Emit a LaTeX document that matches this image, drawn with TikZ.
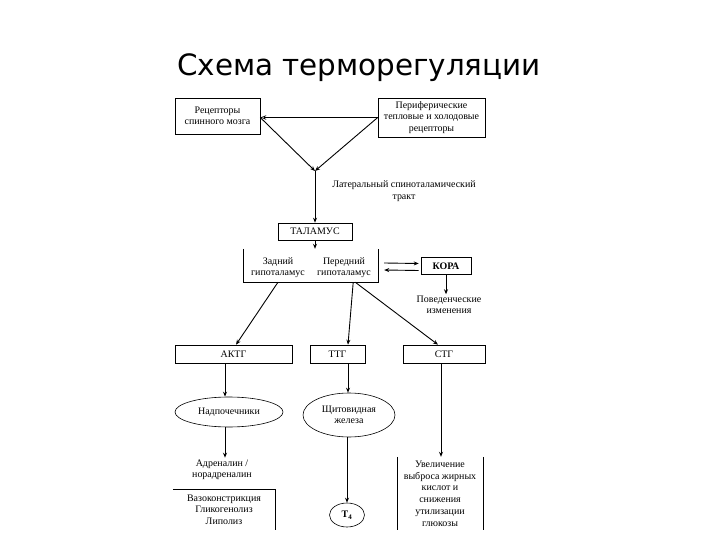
\documentclass[tikz,border=0pt]{standalone}
\usepackage{fontspec}
\setmainfont{Liberation Serif}
\newfontfamily\titlefont{DejaVu Sans}
\usetikzlibrary{arrows.meta,shapes.geometric,calc}
\begin{document}
\begin{tikzpicture}[x=1bp,y=-1bp,
  every node/.style={font=\fontsize{10}{11.5}\selectfont, align=center, inner sep=1.5bp},
  box/.style={draw, line width=0.6pt, inner sep=0pt},
  ell/.style={draw, ellipse, line width=0.6pt, inner sep=0pt},
  arr/.style={line width=0.9pt, -{Stealth[length=5bp,width=4bp]}},
  thinarr/.style={line width=0.5pt, -{Stealth[length=6bp,width=4.5bp,open]}},
  brk/.style={line width=0.6pt}]
\fill[white] (0,0) rectangle (720,540);
\useasboundingbox (0,0) rectangle (720,540);

\node[font=\titlefont\fontsize{29.5}{33}\selectfont] (title) at (359,68) {Схема терморегуляции};

\node[box, minimum width=85bp, minimum height=36bp] (rsm) at (217.5,116) {Рецепторы\\спинного мозга};
\node[box, minimum width=107bp, minimum height=39bp] (prr) at (431.5,117.5) {Периферические\\тепловые и холодовые\\рецепторы};
\coordinate (m) at (315,171);
\draw[thinarr] (prr.west) -- (prr.west -| rsm.east);
\draw[arr] (prr.west -| rsm.east) -- (m);
\draw[arr] (prr.west) -- (m);

\node (lst) at (404,191) {Латеральный спиноталамический\\тракт};

\node[box, minimum width=74bp, minimum height=17bp] (thal) at (315,231.5) {ТАЛАМУС};
\draw[arr] (m) -- (thal.north);

\node[minimum width=135bp, minimum height=33bp, inner sep=0pt] (hyp) at (310.5,265.5) {};
\draw[brk] (hyp.north west) -- (hyp.south west) -- (hyp.south east) -- (hyp.north east);
\node (zad) at (278,267.5) {Задний\\гипоталамус};
\node (per) at (344,267.5) {Передний\\гипоталамус};
\draw[arr] (thal.south) -- (thal.south |- hyp.north);

\node[box, minimum width=50bp, minimum height=17bp, font=\fontsize{10}{11.5}\selectfont\bfseries] (kora) at (446,266) {КОРА};
\draw[arr] ([shift={(6bp,2.5bp)}]hyp.east) -- ([shift={(-2bp,2.5bp)}]kora.west);
\draw[arr] ([shift={(-2bp,-4.5bp)}]kora.west) -- ([shift={(6bp,-4.5bp)}]hyp.east);

\node (pov) at (449,305) {Поведенческие\\изменения};
\draw[arr] (kora.south) -- (kora.south |- pov.north);

\node[box, minimum width=117bp, minimum height=18bp] (akth) at (233.5,354) {АКТГ};
\node[box, minimum width=55bp, minimum height=18bp] (ttg) at (337.5,354) {ТТГ};
\node[box, minimum width=82bp, minimum height=18bp] (stg) at (444,354) {СТГ};

\draw[arr] (zad |- hyp.south) -- ([xshift=2.5bp]akth.north);
\draw[arr] ([xshift=-25bp]hyp.south east) -- ([xshift=10.5bp]ttg.north);
\draw[arr] ([xshift=-23bp]hyp.south east) -- ([xshift=-6bp]stg.north);

\node[ell, minimum width=108bp, minimum height=30bp] (nad) at (229,412) {Надпочечники};
\draw[arr] ([xshift=-8.5bp]akth.south) -- ([xshift=-8.5bp]akth.south |- nad.north);

\node[ell, minimum width=92bp, minimum height=44bp] (shch) at (349,415) {Щитовидная\\железа};
\draw[arr] ([xshift=10.5bp]ttg.south) -- ([xshift=10.5bp]ttg.south |- shch.north);

\node (adr) at (222,469.5) {Адреналин /\\норадреналин};
\draw[arr] ([xshift=-4bp]nad.south) -- ([xshift=-4bp]nad.south |- adr.north);

\node[minimum width=102bp, minimum height=41bp, inner sep=0pt] (vaz) at (224,509.5) {Вазоконстрикция\\Гликогенолиз\\Липолиз};
\draw[brk] (vaz.north west) -- (vaz.north east) -- (vaz.south east);

\node[ell, minimum width=35bp, minimum height=24bp, font=\fontsize{10}{11.5}\selectfont\bfseries] (t4) at (347,515) {T\textsubscript{4}};
\draw[arr] (t4.north |- shch.south) -- (t4.north);

\node[minimum width=86bp, minimum height=73bp, inner sep=0pt, font=\fontsize{10}{11.8}\selectfont] (uv) at (440,493.5) {Увеличение\\выброса жирных\\кислот и\\снижения\\утилизации\\глюкозы};
\draw[brk] (uv.north west) -- (uv.south west);
\draw[brk] (uv.north east) -- (uv.south east);
\draw[arr] ([xshift=-3bp]stg.south) -- ([xshift=-3bp]stg.south |- uv.north);
\end{tikzpicture}
\end{document}
